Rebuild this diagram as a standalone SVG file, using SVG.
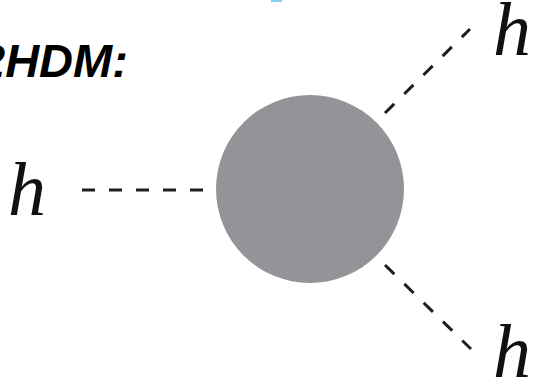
<svg xmlns="http://www.w3.org/2000/svg" width="536" height="386" viewBox="0 0 536 386">
  <style>
    .lbl { font-family: "Liberation Serif", "DejaVu Serif", serif; font-style: italic; font-size: 76px; fill: #111; }
    .title { font-family: "Liberation Sans", Arial, sans-serif; font-style: italic; font-weight: bold; font-size: 47px; fill: #000; }
    .dash { stroke: #1e1e1e; stroke-width: 3; stroke-dasharray: 13 14; fill: none; }
  </style>
  <rect width="536" height="386" fill="#fff"/>
  <rect x="271" y="0" width="11" height="2" fill="#86cff2"/>
  <text class="title" x="-21" y="77">2HDM:</text>
  <g id="connectors">
    <line class="dash" x1="82" y1="190" x2="204" y2="190"/>
    <line class="dash" x1="385" y1="113" x2="470" y2="29"/>
    <line class="dash" x1="385" y1="265" x2="471" y2="349"/>
  </g>
  <g id="vertex">
    <circle cx="310" cy="189" r="94" fill="#939497"/>
  </g>
  <g id="h-in">
    <text class="lbl" x="8" y="215">h</text>
  </g>
  <g id="h-out-top">
    <text class="lbl" x="493" y="55">h</text>
  </g>
  <g id="h-out-bottom">
    <text class="lbl" x="493" y="377">h</text>
  </g>
</svg>
